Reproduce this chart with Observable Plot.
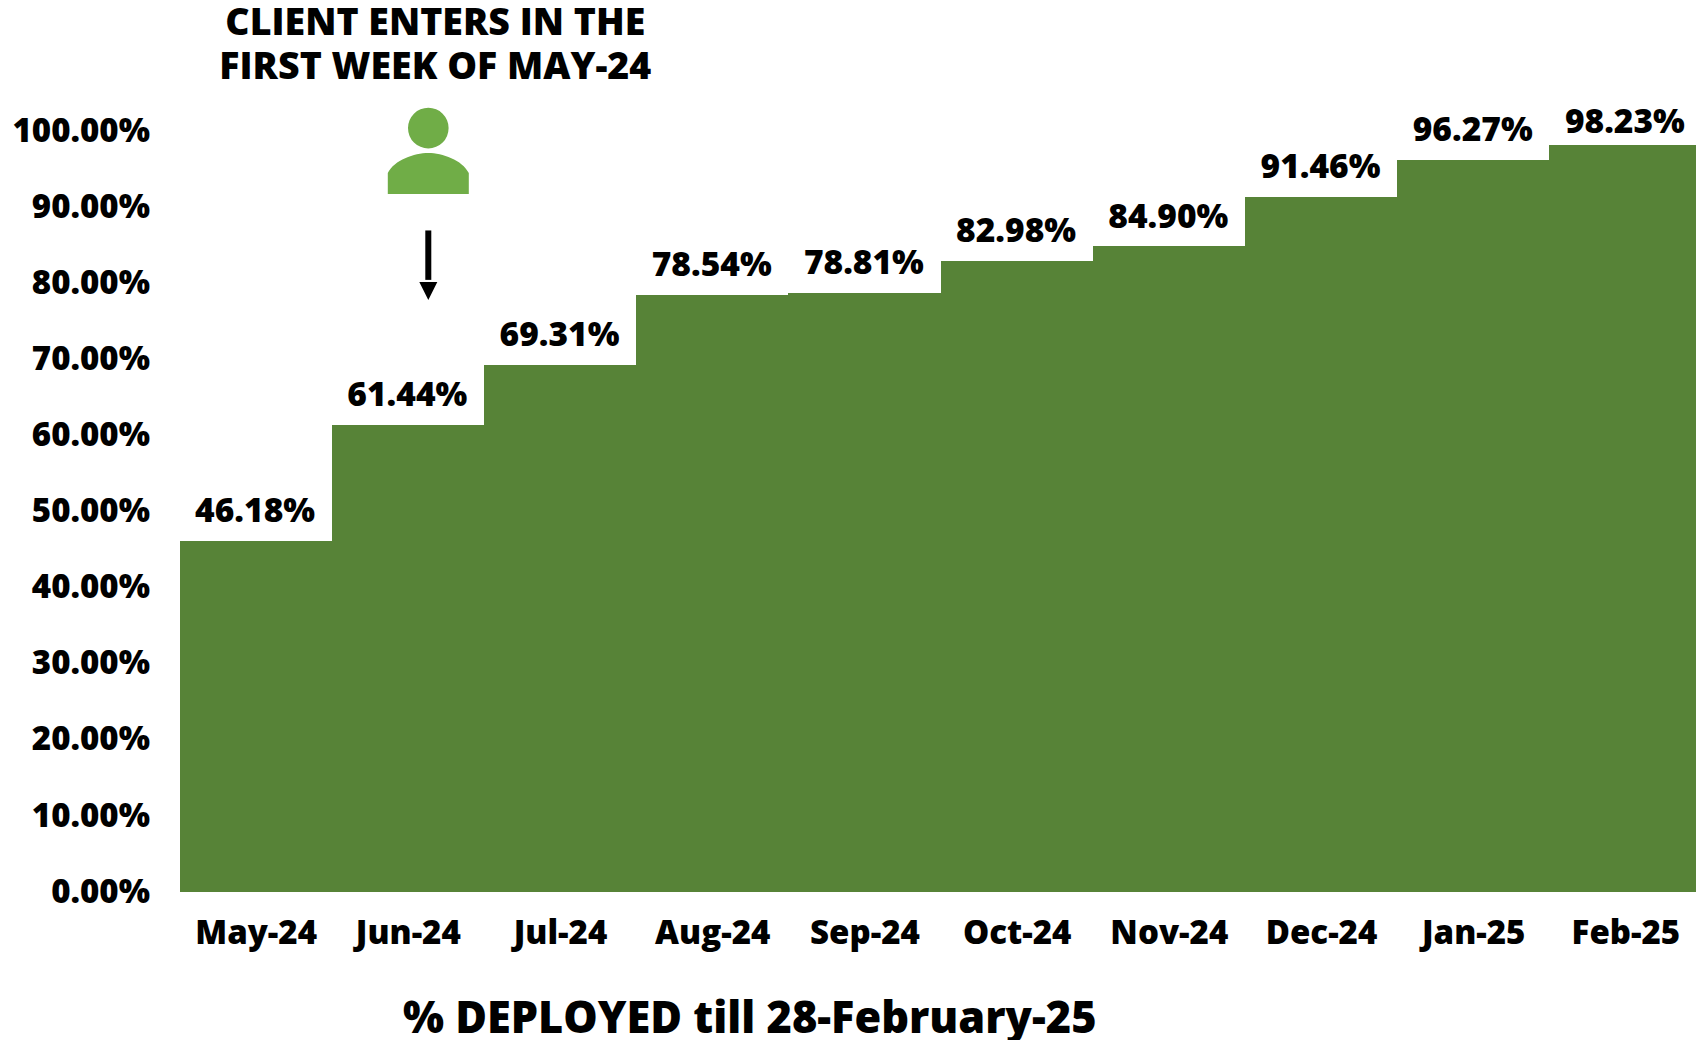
<!DOCTYPE html>
<html>
<head>
<meta charset="utf-8">
<script src="https://cdn.jsdelivr.net/npm/d3@7"></script>
<script src="https://cdn.jsdelivr.net/npm/@observablehq/plot@0.6"></script>
<style>html,body{margin:0;padding:0;background:#fff}svg{display:block}</style>
</head>
<body>
<div id="chart"></div>
<script>
const months = ["May-24","Jun-24","Jul-24","Aug-24","Sep-24","Oct-24","Nov-24","Dec-24","Jan-25","Feb-25"];
const deployed = [46.18,61.44,69.31,78.54,78.81,82.98,84.90,91.46,96.27,98.23];
const yTicks = [0,10,20,30,40,50,60,70,80,90,100];
const annotationLine1 = "CLIENT ENTERS IN THE";
const annotationLine2 = "FIRST WEEK OF MAY-24";
const footer = "% DEPLOYED till 28-February-25";

const font = "'Open Sans'";
const rows = months.map((month, i) => ({month, value: deployed[i]}));
const label = d => d.value.toFixed(2) + "%";

const person = {draw(c, size) {
  const k = Math.sqrt(size / Math.PI) / 40;
  c.moveTo(20.3 * k, -23 * k);
  c.arc(0, -23 * k, 20.3 * k, 0, 2 * Math.PI);
  c.closePath();
  c.moveTo(-40.5 * k, 43 * k);
  c.lineTo(-40.5 * k, 22 * k);
  c.bezierCurveTo(-34 * k, 9 * k, -14 * k, 2 * k, 0, 2 * k);
  c.bezierCurveTo(14 * k, 2 * k, 34 * k, 9 * k, 40.5 * k, 22 * k);
  c.lineTo(40.5 * k, 43 * k);
  c.closePath();
}};
const arrowHead = {draw(c, size) {
  const r = Math.sqrt(size / Math.PI);
  c.moveTo(-r, -r);
  c.lineTo(r, -r);
  c.lineTo(0, r);
  c.closePath();
}};

const chart = Plot.plot({
  width: 1696,
  height: 1040,
  marginLeft: 179.5,
  marginRight: 0,
  marginTop: 131.6,
  marginBottom: 148,
  style: {background: "#fff", fontFamily: font},
  x: {type: "band", domain: months, padding: 0, round: false, range: [179.5, 1701.5], label: null},
  y: {domain: [0, 100], label: null},
  marks: [
    Plot.barY(rows, {x: "month", y: "value", fill: "#578337", inset: 0, shapeRendering: "crispEdges"}),
    Plot.axisY({ticks: yTicks, tickFormat: d => d.toFixed(2) + "%", tickSize: 0, tickPadding: 30,
      dy: -0.5, fontSize: 33, fontWeight: 800, fill: "#000", fontFamily: font, label: null}),
    Plot.axisX({tickSize: 0, tickPadding: 41, fontSize: 33, fontWeight: 800, fill: "#000",
      fontFamily: font, label: null, lineAnchor: "middle"}),
    Plot.text(rows.slice(0, -1), {x: "month", y: "value", text: label, dx: -1,
      dy: -30, fontSize: 33.5, fontWeight: 800, fill: "#000", fontFamily: font, lineAnchor: "middle"}),
    Plot.text(rows.slice(-1), {x: "month", y: "value", text: label, dx: -1,
      dy: -23, fontSize: 33.5, fontWeight: 800, fill: "#000", fontFamily: font, lineAnchor: "middle"}),
    Plot.text([annotationLine1], {x: () => "Jun-24", y: () => 114.4, text: d => d, dx: 27, fontSize: 37.5,
      fontWeight: 800, fill: "#000", fontFamily: font, lineAnchor: "middle"}),
    Plot.text([annotationLine2], {x: () => "Jun-24", y: () => 108.6, text: d => d, dx: 27, fontSize: 37.5,
      fontWeight: 800, fill: "#000", fontFamily: font, lineAnchor: "middle"}),
    Plot.dot(["Jun-24"], {x: d => d, y: () => 97.5, dx: 20, r: 40, symbol: person, fill: "#70ad47", stroke: "none"}),
    Plot.ruleX(["Jun-24"], {x: d => d, y1: () => 87, y2: () => 80.5, dx: 20, stroke: "#000", strokeWidth: 6}),
    Plot.dot(["Jun-24"], {x: d => d, y: () => 79.1, dx: 20, r: 9, symbol: arrowHead, fill: "#000", stroke: "none"}),
    Plot.text([footer], {x: () => "Aug-24", y: () => -16.6, text: d => d, dx: 37, fontSize: 43.3,
      fontWeight: 800, fill: "#000", fontFamily: font, lineAnchor: "middle"})
  ]
});
document.getElementById("chart").append(chart);
</script>
</body>
</html>
